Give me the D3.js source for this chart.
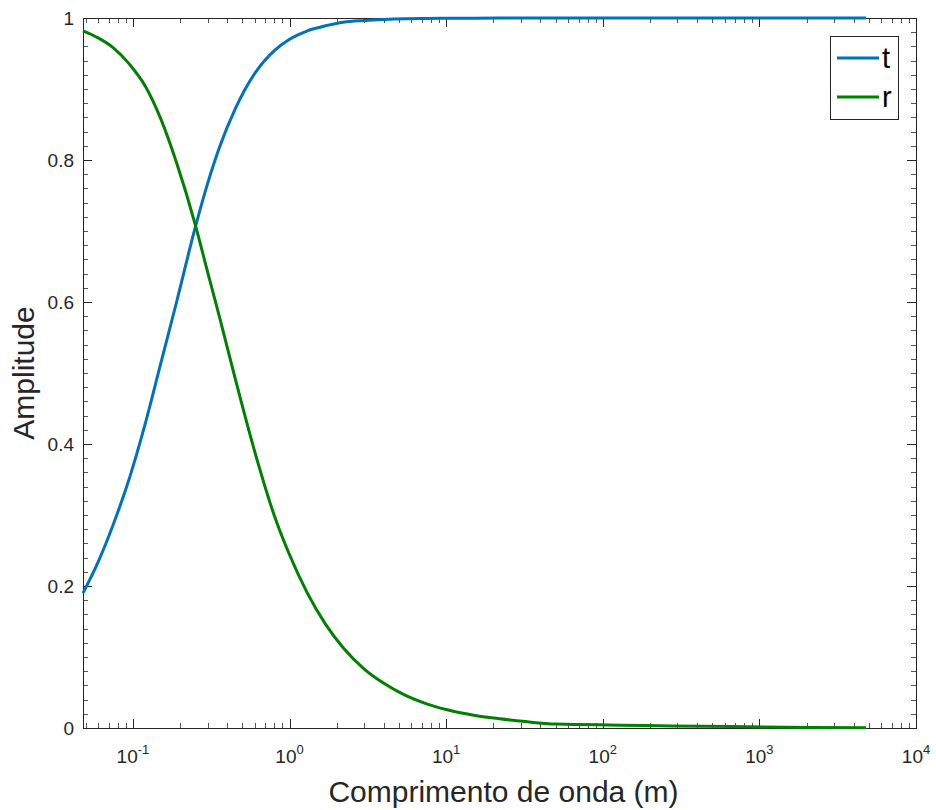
<!DOCTYPE html>
<html>
<head>
<meta charset="utf-8">
<script src="https://d3js.org/d3.v7.min.js"></script>
<style>
  body { margin: 0; background: #fff; }
  svg { font-family: "Liberation Sans", Arial, Helvetica, sans-serif; }
</style>
</head>
<body>
<div id="chart"></div>
<script>
// transmission (t) and reflection (r) amplitudes vs wavelength (m)
var lambda = [0.048, 0.06, 0.075, 0.095, 0.12, 0.15, 0.19, 0.25, 0.3, 0.36, 0.45, 0.6, 0.8, 1.0,
              1.3, 1.7, 2.2, 3, 4, 5.5, 7.5, 10, 15, 22, 32, 50, 4800];
var tValues = [0.190, 0.234, 0.287, 0.352, 0.429, 0.512, 0.600, 0.705, 0.767, 0.820, 0.872, 0.922, 0.954, 0.970,
               0.982, 0.989, 0.994, 0.9965, 0.998, 0.999, 0.9994, 0.9997, 0.9998, 0.9999, 1.0, 1.0, 1.0];
var rValues = [0.982, 0.972, 0.958, 0.935, 0.904, 0.859, 0.796, 0.709, 0.642, 0.576, 0.492, 0.389, 0.299, 0.244,
               0.190, 0.146, 0.113, 0.083, 0.063, 0.046, 0.034, 0.026, 0.018, 0.013, 0.009, 0.0056, 0.0005];

var seriesNames = ["t", "r"];
var seriesColors = ["#0072BD", "#008000"];

var yTicks = [0, 0.2, 0.4, 0.6, 0.8, 1];
var yTickLabels = ["0", "0.2", "0.4", "0.6", "0.8", "1"];
var xExponents = [-1, 0, 1, 2, 3, 4];

function drawChart() {
  var W = 936, H = 810;
  var pLeft = 83, pRight = 916, pTop = 18, pBottom = 728;
  var axisColor = "#262626";

  var svg = d3.select("#chart").append("svg").attr("width", W).attr("height", H);

  var x = d3.scaleLog().domain([0.048, 10000]).range([pLeft, pRight]);
  var y = d3.scaleLinear().domain([0, 1]).range([pBottom, pTop]);

  // minor ticks: 2..9 per decade on x, every 0.02 on y
  var xMinor = [];
  for (var e = -2; e <= 3; e++) {
    for (var k = 2; k <= 9; k++) {
      var v = k * Math.pow(10, e);
      if (v > x.domain()[0] && v < x.domain()[1]) xMinor.push(v);
    }
  }
  var yMinor = d3.range(1, 50).map(function(i){ return i * 0.02; })
    .filter(function(v){ return Math.abs(v * 5 - Math.round(v * 5)) > 1e-6; });

  var ticks = svg.append("g").attr("stroke", axisColor).attr("stroke-width", 1);

  xMinor.forEach(function(v){
    var px = Math.round(x(v)) + 0.5;
    ticks.append("line").attr("x1", px).attr("x2", px).attr("y1", pBottom).attr("y2", pBottom - 5).attr("stroke", "#555");
    ticks.append("line").attr("x1", px).attr("x2", px).attr("y1", pTop).attr("y2", pTop + 5).attr("stroke", "#555");
  });
  xExponents.forEach(function(e){
    var px = Math.round(x(Math.pow(10, e))) + 0.5;
    ticks.append("line").attr("x1", px).attr("x2", px).attr("y1", pBottom).attr("y2", pBottom - 9);
    ticks.append("line").attr("x1", px).attr("x2", px).attr("y1", pTop).attr("y2", pTop + 9);
  });
  yMinor.forEach(function(v){
    var py = Math.round(y(v)) + 0.5;
    ticks.append("line").attr("x1", pLeft).attr("x2", pLeft + 5).attr("y1", py).attr("y2", py).attr("stroke", "#555");
    ticks.append("line").attr("x1", pRight).attr("x2", pRight - 5).attr("y1", py).attr("y2", py).attr("stroke", "#555");
  });
  yTicks.forEach(function(v){
    var py = Math.round(y(v)) + 0.5;
    ticks.append("line").attr("x1", pLeft).attr("x2", pLeft + 9).attr("y1", py).attr("y2", py);
    ticks.append("line").attr("x1", pRight).attr("x2", pRight - 9).attr("y1", py).attr("y2", py);
  });

  // axes box
  svg.append("rect")
    .attr("x", pLeft + 0.5).attr("y", pTop + 0.5)
    .attr("width", pRight - pLeft).attr("height", pBottom - pTop)
    .attr("fill", "none").attr("stroke", axisColor).attr("stroke-width", 1);

  // tick labels
  svg.append("g").selectAll("text").data(yTicks).enter().append("text")
    .attr("x", pLeft - 9).attr("y", function(d){ return y(d); })
    .attr("dy", "0.36em").attr("text-anchor", "end")
    .attr("font-size", 19).attr("fill", axisColor)
    .text(function(d, i){ return yTickLabels[i]; });

  var xl = svg.append("g").selectAll("text").data(xExponents).enter().append("text")
    .attr("x", function(d){ return x(Math.pow(10, d)); })
    .attr("y", 763).attr("text-anchor", "middle")
    .attr("font-size", 19).attr("fill", axisColor);
  xl.append("tspan").text("10");
  xl.append("tspan").attr("dy", -9).attr("font-size", 13).text(function(d){ return d; });

  // axis titles
  svg.append("text")
    .attr("x", (pLeft + pRight) / 2 + 4).attr("y", 802)
    .attr("text-anchor", "middle").attr("font-size", 30).attr("fill", axisColor)
    .text("Comprimento de onda (m)");
  svg.append("text")
    .attr("transform", "translate(34," + ((pTop + pBottom) / 2) + ") rotate(-90)")
    .attr("text-anchor", "middle").attr("font-size", 30).attr("fill", axisColor)
    .text("Amplitude");

  // curves
  var line = d3.line()
    .x(function(d){ return x(d[0]); })
    .y(function(d){ return y(d[1]); })
    .curve(d3.curveMonotoneX);

  var series = [
    d3.zip(lambda, tValues),
    d3.zip(lambda, rValues)
  ];
  series.forEach(function(s, i){
    svg.append("path")
      .attr("d", line(s))
      .attr("fill", "none")
      .attr("stroke", seriesColors[i])
      .attr("stroke-width", 3)
      .attr("stroke-linejoin", "round");
  });

  // legend
  var lg = svg.append("g");
  lg.append("rect")
    .attr("x", 830.5).attr("y", 36.5).attr("width", 68).attr("height", 83)
    .attr("fill", "#fff").attr("stroke", axisColor).attr("stroke-width", 1);
  seriesNames.forEach(function(n, i){
    var ly = 58 + i * 39;
    lg.append("line").attr("x1", 837).attr("x2", 879).attr("y1", ly).attr("y2", ly)
      .attr("stroke", seriesColors[i]).attr("stroke-width", 3);
    lg.append("text").attr("x", 882).attr("y", ly + 10)
      .attr("font-size", 29).attr("fill", "#000").text(n);
  });
}

drawChart();
</script>
</body>
</html>
